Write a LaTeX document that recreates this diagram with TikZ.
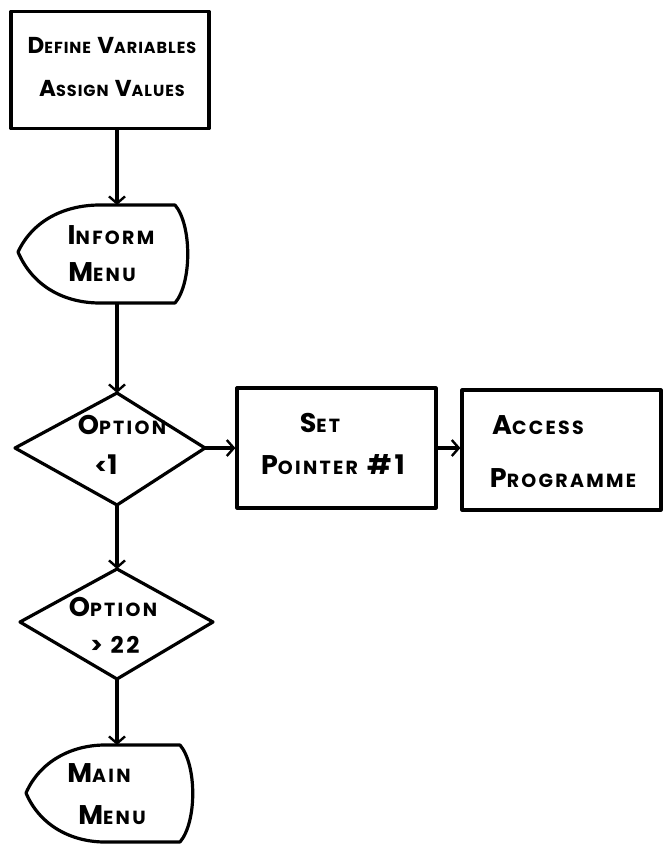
\documentclass[tikz,border=0pt]{standalone}
\usepackage{fontspec}
\setmainfont{Poppins}
\usetikzlibrary{arrows.meta}
\newcommand\lcsize{19}
\newcommand\lc[1]{{\fontsize{\lcsize}{\lcsize}\selectfont #1}}
\newcommand\mc[1]{{\fontsize{23}{23}\selectfont #1}}
\begin{document}
\begin{tikzpicture}[x=1pt,y=-1pt,
  shp/.style={draw=black,line width=3.2pt,line join=round},
  txt/.style={font=\fontsize{27}{30}\selectfont\bfseries\addfontfeatures{LetterSpace=12},inner sep=0pt},
  txtsm/.style={font=\fontsize{23}{27}\selectfont\bfseries\addfontfeatures{LetterSpace=6}\renewcommand\lcsize{16},inner sep=0pt},
  flow/.style={line width=3.2pt,-{Straight Barb[length=7pt,width=16pt,line width=2.4pt]}}]
\useasboundingbox (0,0) rectangle (668,856);
% box 1
\node[shp,minimum width=198pt,minimum height=117pt,inner sep=0pt] (b1) at (110,70) {};
\node[txtsm] (t1a) at (112,45) {D\lc{EFINE} V\lc{ARIABLES}};
\node[txtsm] (t1b) at (112,88) {A\lc{SSIGN} V\lc{ALUES}};
% Inform Menu display
\draw[shp] (18,252) .. controls (33,220) and (65,205) .. (100,205) -- (175,205)
  .. controls (192,225) and (192,283) .. (175,303) -- (100,303)
  .. controls (65,303) and (33,287) .. (18,252) -- cycle;
\coordinate (d1top) at (117,205);
\coordinate (d1bot) at (117,303);
\node[txt] (t2a) at (111,235) {I\lc{NFORM}};
\node[txt] (t2b) at (102,272) {M\lc{ENU}};
% diamond 1
\draw[shp] (117,393) -- (205,448) -- (117,505) -- (15,448) -- cycle;
\coordinate (q1top) at (117,393);
\coordinate (q1right) at (205,448);
\coordinate (q1bot) at (117,505);
\node[txt] (t3a) at (122,425) {O\lc{PTION}};
\node[txt] (t3b) at (106,465) {\mc{<}1};
% box 2
\node[shp,minimum width=199pt,minimum height=120pt,inner sep=0pt] (b2) at (336.5,448) {};
\node[txt] (t4a) at (320,423) {S\lc{ET}};
\node[txt] (t4b) at (333,465) {P\lc{OINTER} \#1};
% box 3
\node[shp,minimum width=199pt,minimum height=120pt,inner sep=0pt] (b3) at (561.5,450) {};
\node[txt] (t5a) at (538,425) {A\lc{CCESS}};
\node[txt] (t5b) at (563,478) {P\lc{ROGRAMME}};
% diamond 2
\draw[shp] (117,569) -- (213,622) -- (117,679) -- (20,622) -- cycle;
\coordinate (q2top) at (117,569);
\coordinate (q2bot) at (117,679);
\node[txt] (t6a) at (113,607) {O\lc{PTION}};
\node[txt] (t6b) at (115,645) {\mc{> 22}};
% Main Menu display
\draw[shp] (26,793) .. controls (40,761) and (72,745) .. (105,745) -- (180,745)
  .. controls (197,765) and (197,822) .. (180,842) -- (105,842)
  .. controls (72,842) and (40,826) .. (26,793) -- cycle;
\coordinate (mtop) at (117,745);
\node[txt] (t7a) at (99,773) {M\lc{AIN}};
\node[txt] (t7b) at (112,815) {M\lc{ENU}};
% connectors
\draw[flow] (b1.south -| d1top) -- (d1top);
\draw[flow] (d1bot) -- (q1top);
\draw[flow] (q1right) -- (b2.west);
\draw[flow] (b2.east) -- (b3.west |- b2.east);
\draw[flow] (q1bot) -- (q2top);
\draw[flow] (q2bot) -- (mtop);
\end{tikzpicture}
\end{document}
